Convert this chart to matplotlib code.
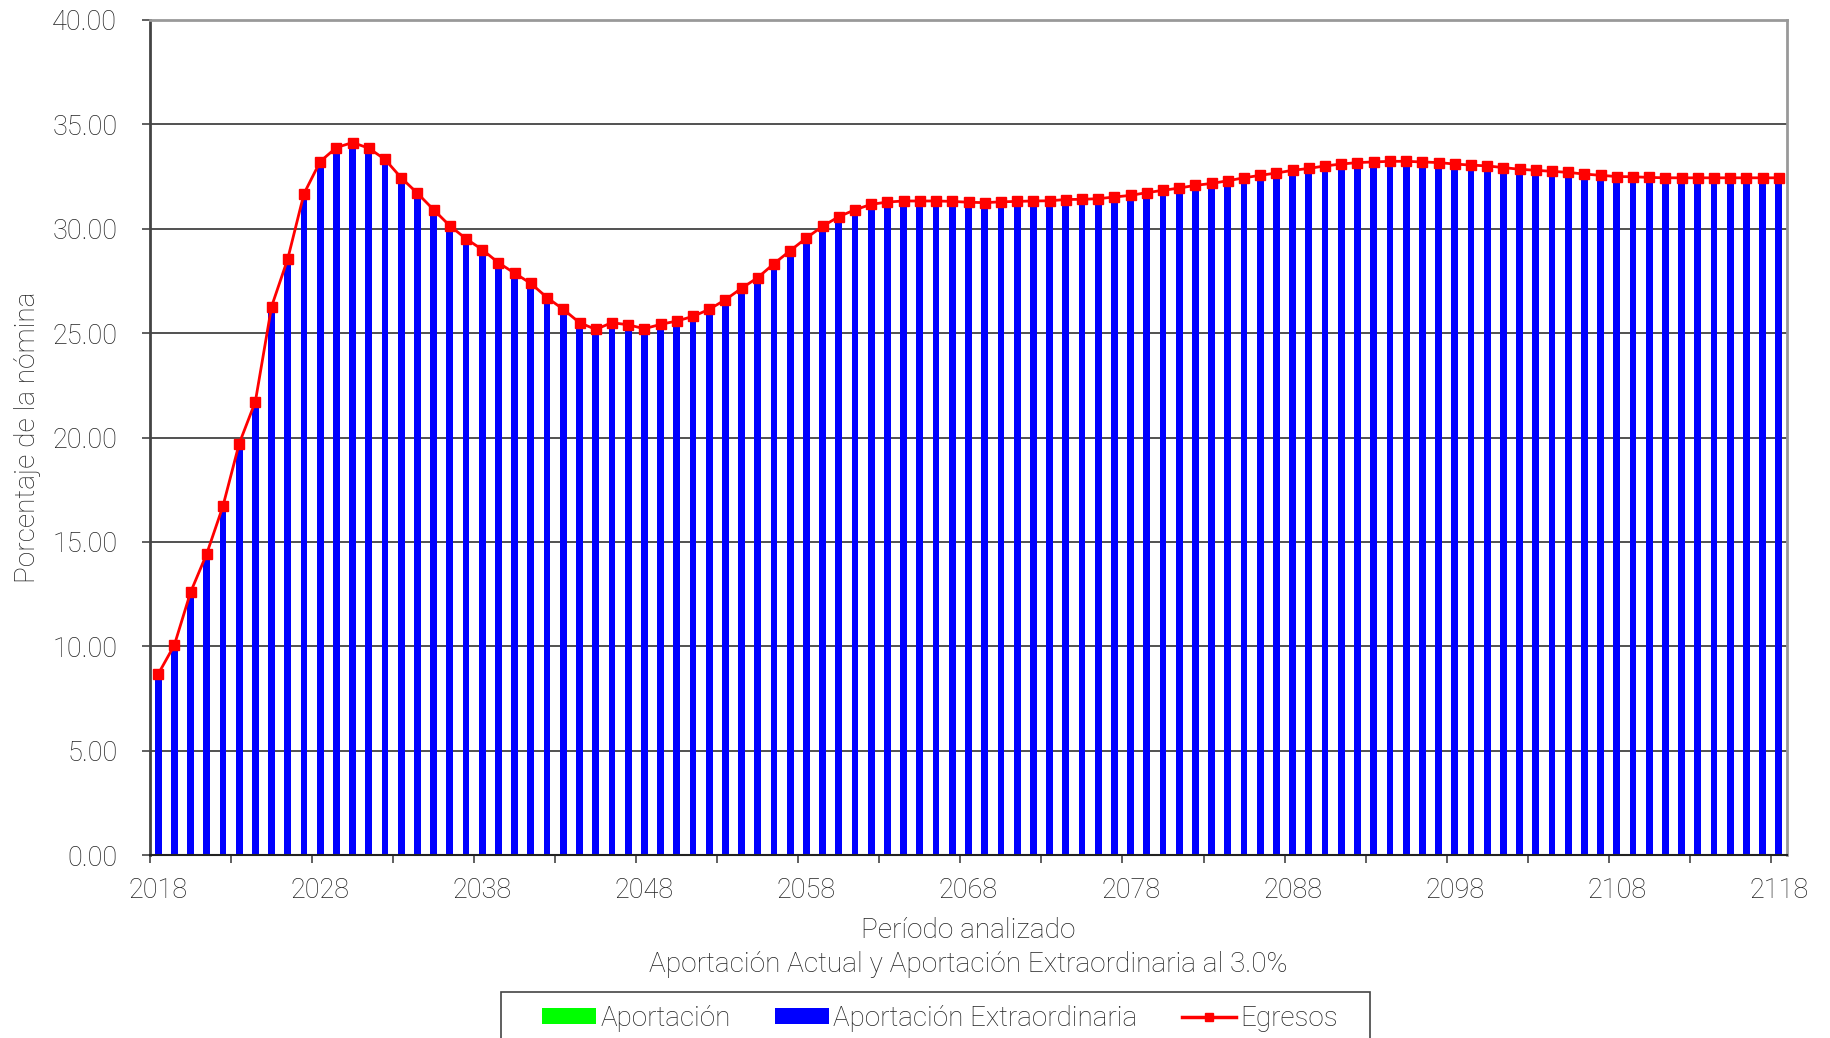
import numpy as np
import matplotlib
matplotlib.use('Agg')
import matplotlib.pyplot as plt
from matplotlib.patches import Patch, Rectangle
from matplotlib.lines import Line2D

plt.rcParams['font.family'] = ['Roboto', 'DejaVu Sans']
plt.rcParams['font.weight'] = 'light'

######## Data ##########
years = list(range(2018, 2119))

egresos = [
    8.66, 10.05, 12.58, 14.43, 16.71, 19.70, 21.72, 26.27, 28.56, 31.68,   # 2018-2027
    33.22, 33.89, 34.13, 33.86, 33.32, 32.44, 31.70, 30.91, 30.14, 29.52,  # 2028-2037
    29.00, 28.37, 27.87, 27.38, 26.70, 26.14, 25.50, 25.18, 25.50, 25.40,  # 2038-2047
    25.21, 25.42, 25.58, 25.80, 26.14, 26.60, 27.15, 27.66, 28.33, 28.95,  # 2048-2057
    29.56, 30.12, 30.58, 30.91, 31.17, 31.28, 31.33, 31.33, 31.33, 31.31,  # 2058-2067
    31.27, 31.25, 31.29, 31.31, 31.33, 31.34, 31.40, 31.41, 31.44, 31.52,  # 2068-2077
    31.60, 31.73, 31.84, 31.95, 32.08, 32.17, 32.30, 32.44, 32.56, 32.67,  # 2078-2087
    32.80, 32.89, 33.01, 33.10, 33.17, 33.20, 33.23, 33.23, 33.20, 33.17,  # 2088-2097
    33.10, 33.05, 33.01, 32.93, 32.85, 32.80, 32.75, 32.70, 32.62, 32.56,  # 2098-2107
    32.50, 32.49, 32.46, 32.44, 32.44, 32.44, 32.44, 32.44, 32.44, 32.44,  # 2108-2117
    32.44,                                                                 # 2118
]

# green series is not visible in the picture -> zero height
aportacion = np.zeros(len(years))
# blue bars reach the Egresos line
extraordinaria = np.array(egresos)

yticks = [0, 5, 10, 15, 20, 25, 30, 35, 40]

######## Plot ##########
fig = plt.figure(figsize=(18.31, 10.38), dpi=100)
ax = fig.add_axes([150/1831, 1 - 855/1038, (1787 - 150)/1831, (855 - 20)/1038])

x = np.arange(len(years))
ax.bar(x, aportacion, width=0.42, color='#00FF00', zorder=2)
ax.bar(x, extraordinaria, width=0.42, bottom=aportacion, color='#0000FF', zorder=2)
ax.plot(x, egresos, color='#FF0000', linewidth=2, marker='s', markersize=7.5, zorder=3)

ax.set_xlim(-0.5, len(years) - 0.5)
ax.set_ylim(0, 40)
ax.set_yticks(yticks)
ax.set_yticklabels([f'{v:.2f}' for v in yticks])
ax.yaxis.grid(True, color='#222222', linewidth=1.1, zorder=1)
ax.set_axisbelow(True)

ax.set_xticks(x[::10])
ax.set_xticklabels([str(y) for y in years[::10]])
ax.set_xticks(np.arange(-0.5, len(years), 5), minor=True)
ax.tick_params(axis='x', which='major', length=0, pad=16, labelsize=19.5, labelcolor='#222222')
ax.tick_params(axis='x', which='minor', length=6, width=1.2, color='#444444')
ax.tick_params(axis='y', length=6, width=1.2, color='#444444', pad=17.5, labelsize=19.5, labelcolor='#222222')

ax.spines['left'].set_color('#444444')
ax.spines['left'].set_linewidth(2)
ax.spines['bottom'].set_color('#222222')
ax.spines['bottom'].set_linewidth(1.5)
ax.spines['top'].set_color('#999999')
ax.spines['top'].set_linewidth(2)
ax.spines['right'].set_color('#999999')
ax.spines['right'].set_linewidth(2)

fig.text(28/1831, 1 - 437/1038, 'Porcentaje de la nómina', rotation=90,
         ha='center', va='center', fontsize=20.2, color='#222222')
fig.text(968/1831, 1 - 931/1038, 'Período analizado',
         ha='center', va='center', fontsize=20.2, color='#222222')
fig.text(968/1831, 1 - 964/1038, 'Aportación Actual y Aportación Extraordinaria al 3.0%',
         ha='center', va='center', fontsize=20.2, color='#222222')

# legend box runs past the bottom edge of the picture
fig.patches.append(Rectangle((501/1831, -0.05), (1370 - 501)/1831, 1 - 992/1038 + 0.05,
                             transform=fig.transFigure, facecolor='white',
                             edgecolor='#444444', linewidth=1.2, zorder=0))

handles = [
    Patch(facecolor='#00FF00', edgecolor='none'),
    Patch(facecolor='#0000FF', edgecolor='none'),
    Line2D([], [], color='#FF0000', linewidth=2.5, marker='s', markersize=6),
]
labels = ['Aportación', 'Aportación Extraordinaria', 'Egresos']
leg = fig.legend(handles, labels, loc='center', bbox_to_anchor=(940/1831, 1 - 1018/1038),
                 ncol=3, fontsize=20, frameon=False,
                 handlelength=1.95, handleheight=0.5, handletextpad=0.15, columnspacing=1.6,
                 borderpad=0, borderaxespad=0)
for t in leg.get_texts():
    t.set_color('#222222')

fig.savefig('out.png', dpi=100)
